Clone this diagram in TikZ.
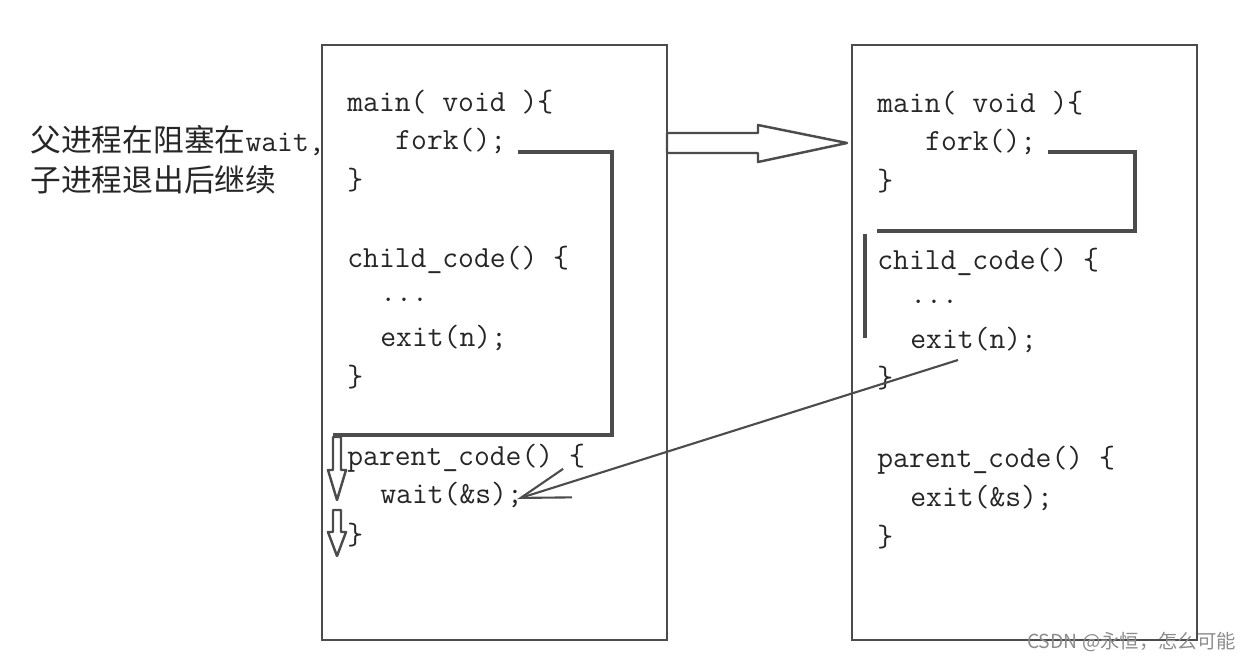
\documentclass[tikz,border=0pt]{standalone}
\usepackage{fontspec}
\newfontfamily\cjk{Noto Sans CJK SC}
\usetikzlibrary{arrows.meta,calc,positioning}

\begin{document}
\begin{tikzpicture}[x=0.02cm, y=-0.02cm, >=Stealth,
  code/.style={anchor=west, inner sep=0pt, font=\fontsize{17.5}{20}\selectfont\ttfamily, text=black!85},
  frame/.style={line width=1.6pt, black!70},
  rough/.style={line width=2.2pt, black!70},
  hollow/.style={line width=1.4pt, black!70, fill=white, line join=round}]
\useasboundingbox (0,0) rectangle (1250,660);

% Note on the left
\node[anchor=west, align=left, inner sep=0pt, text=black!85, font=\cjk\fontsize{17.5}{22.8}\selectfont] (note) at (30,160)
  {父进程在阻塞在{\ttfamily wait,}\\子进程退出后继续};

% Process boxes
\draw[frame] (322,45) rectangle (667,640);
\draw[frame] (852,45) rectangle (1197,640);

% Code in left box
\node[code] (Lmain) at (347,102) {main( void )\{};
\node[code] (Lfork) at (395,141) {fork();};
\node[code] (Lend) at (347,180) {\}};
\node[code] (Lchild) at (347,260) {child\_code() \{};
\node[code] (Ldots) at (380,300) {...};
\node[code] (Lexit) at (380,338) {exit(n);};
\node[code] (Lcend) at (347,377) {\}};
\node[code] (Lparent) at (347,458) {parent\_code() \{};
\node[code] (Lwait) at (380,495) {wait(\&s);};
\node[code] (Lpend) at (347,535) {\}};

% Code in right box
\node[code] (Rmain) at (877,103) {main( void )\{};
\node[code] (Rfork) at (925,142) {fork();};
\node[code] (Rend) at (877,181) {\}};
\node[code] (Rchild) at (877,262) {child\_code() \{};
\node[code] (Rdots) at (910,302) {...};
\node[code] (Rexit) at (910,340) {exit(n);};
\node[code] (Rcend) at (877,378) {\}};
\node[code] (Rparent) at (877,460) {parent\_code() \{};
\node[code] (Rwait) at (910,498) {exit(\&s);};
\node[code] (Rpend) at (877,537) {\}};

% Flow in left box
\draw[rough] (518,152) -- (612,152) -- (612,435) -- (333,435);
\foreach \ya/\yb/\yc in {437/470/500, 510/532/556}
  \draw[hollow] (333,\ya) -- (341,\ya) -- (341,\yb) -- (346,\yb) -- (337,\yc)
    -- (328,\yb) -- (333,\yb) -- cycle;

% Flow in right box
\draw[rough] (1048,152) -- (1135,152) -- (1135,231) -- (877,231);
\draw[rough] (865,234) -- (865,338);

% Big arrow between boxes
\draw[hollow] (667,133) -- (758,133) -- (758,125) -- (847,143) -- (758,162)
  -- (758,153) -- (667,153) -- cycle;

% exit -> wait
\coordinate (exitpt) at (958,360);
\draw[line width=1.2pt, black!70, -{Straight Barb[length=28pt,width=17pt]}]
  (exitpt) -- ($(Lwait.east)+(-6,4)$);

% Watermark
\node[anchor=east, inner sep=0pt, font=\cjk\fontsize{11}{13}\selectfont, text=black!45] (mark)
  at (1236,642) {CSDN @永恒，怎么可能};
\end{tikzpicture}
\end{document}
